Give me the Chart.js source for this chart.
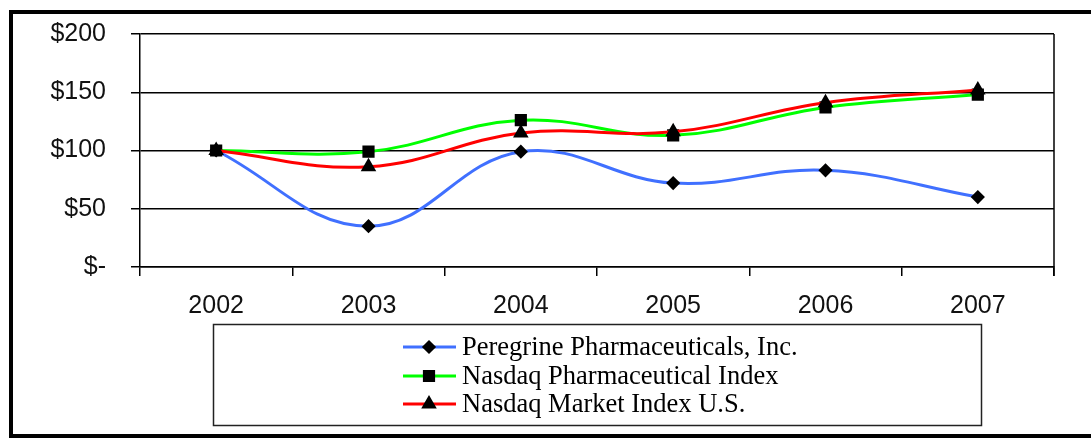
<!DOCTYPE html>
<html>
<head>
<meta charset="utf-8">
<script src="https://cdn.jsdelivr.net/npm/chart.js@4/dist/chart.umd.min.js"></script>
<style>
  html, body { margin: 0; padding: 0; background: #fff; }
  #wrap { width: 1091px; height: 438px; position: relative; }
</style>
</head>
<body>
<div id="wrap"><canvas id="perfChart" width="1091" height="438"></canvas></div>
<script>
const years = ['2002', '2003', '2004', '2005', '2006', '2007'];
const peregrine = [100, 35, 99, 72, 83, 60];
const nasdaqPharma = [100, 99, 126, 113, 137, 148];
const nasdaqMarket = [100, 86, 115, 116, 141, 152];
const yTickLabels = ['$-', '$50', '$100', '$150', '$200'];
const seriesNames = ['Peregrine Pharmaceuticals, Inc.', 'Nasdaq Pharmaceutical Index', 'Nasdaq Market Index U.S.'];

// frame, plot border and the boxed legend
const framePlugin = {
    id: 'frame',
    afterDraw(chart) {
        const ctx = chart.ctx;
        const a = chart.chartArea;
        ctx.save();
        // outer frame
        ctx.strokeStyle = '#000';
        ctx.lineWidth = 4;
        ctx.beginPath();
        ctx.moveTo(1095, 12);
        ctx.lineTo(11, 12);
        ctx.lineTo(11, 436);
        ctx.lineTo(1095, 436);
        ctx.stroke();

        // plot area right edge
        ctx.lineWidth = 1.5;
        ctx.beginPath();
        ctx.moveTo(a.right, a.top);
        ctx.lineTo(a.right, a.bottom + 9);
        ctx.stroke();

        // legend box
        ctx.lineWidth = 1.5;
        ctx.strokeStyle = '#222';
        ctx.strokeRect(213.5, 324.5, 768, 101);

        ctx.font = '26.5px "Liberation Serif", "Times New Roman", serif';
        ctx.textBaseline = 'middle';
        ctx.textAlign = 'left';
        const rowY = [347, 376, 404];
        chart.data.datasets.forEach((ds, i) => {
            const y = rowY[i];
            ctx.strokeStyle = ds.borderColor;
            ctx.lineWidth = 3;
            ctx.beginPath();
            ctx.moveTo(403, y);
            ctx.lineTo(456, y);
            ctx.stroke();
            ctx.fillStyle = '#000';
            ctx.strokeStyle = '#000';
            Chart.helpers.drawPoint(ctx, {
                pointStyle: ds.pointStyle,
                radius: ds.pointRadius,
                borderWidth: 1
            }, 429, y);
            ctx.fillText(seriesNames[i], 462, y + 1);
        });
        ctx.restore();
    }
};

new Chart(document.getElementById('perfChart'), {
    type: 'line',
    data: {
        labels: years,
        datasets: [
            {
                label: seriesNames[0],
                data: peregrine,
                borderColor: '#4070ff',
                borderWidth: 3,
                tension: 0.4,
                pointStyle: 'rectRot',
                pointRadius: 5,
                pointBackgroundColor: '#000',
                pointBorderColor: '#000',
                order: 3
            },
            {
                label: seriesNames[1],
                data: nasdaqPharma,
                borderColor: '#00ff00',
                borderWidth: 3,
                tension: 0.4,
                pointStyle: 'rect',
                pointRadius: 6.5,
                pointBackgroundColor: '#000',
                pointBorderColor: '#000',
                order: 2
            },
            {
                label: seriesNames[2],
                data: nasdaqMarket,
                borderColor: '#ff0000',
                borderWidth: 3,
                tension: 0.4,
                pointStyle: 'triangle',
                pointRadius: 6,
                pointBackgroundColor: '#000',
                pointBorderColor: '#000',
                order: 1
            }
        ]
    },
    options: {
        responsive: false,
        animation: false,
        layout: { padding: { top: 34, right: 37, left: 0, bottom: 0 } },
        plugins: {
            legend: { display: false },
            tooltip: { enabled: false }
        },
        scales: {
            x: {
                offset: true,
                grid: {
                    offset: true,
                    drawOnChartArea: false,
                    color: '#000',
                    lineWidth: 1.5,
                    tickLength: 9
                },
                border: { color: '#000', width: 1.5 },
                ticks: {
                    color: '#111',
                    padding: 15,
                    font: { family: '"Liberation Sans", Arial, sans-serif', size: 25 }
                },
                afterFit(scale) { scale.height = 171; }
            },
            y: {
                min: 0,
                max: 200,
                grid: {
                    color: '#000',
                    lineWidth: 1.5,
                    tickLength: 9
                },
                border: { color: '#000', width: 1.5 },
                ticks: {
                    stepSize: 50,
                    color: '#111',
                    padding: 25,
                    font: { family: '"Liberation Sans", Arial, sans-serif', size: 25 },
                    callback: (v, i) => yTickLabels[i]
                },
                afterFit(scale) {
                    scale.width = 140;
                    scale.paddingTop = 0;
                    scale.paddingBottom = 0;
                }
            }
        }
    },
    plugins: [framePlugin]
});
</script>
</body>
</html>
